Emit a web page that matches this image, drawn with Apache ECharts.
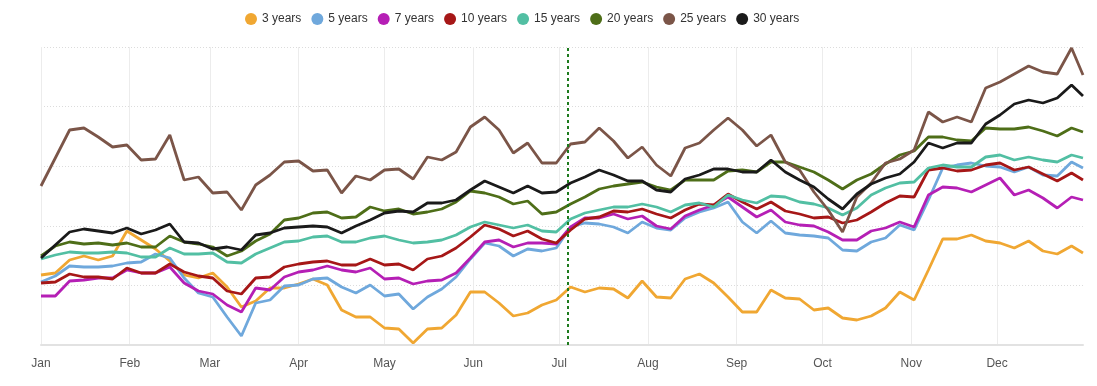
<!DOCTYPE html>
<html>
<head>
<meta charset="utf-8">
<script src="https://cdn.jsdelivr.net/npm/echarts@6/dist/echarts.min.js"></script>
<style>html,body{margin:0;padding:0;background:#fff;}#chart{width:1097px;height:386px;}</style>
</head>
<body>
<div id="chart"></div>
<script>
// Sampling: one value every 5 days from Jan 1 (last point Dec 31)
const year = 2023;
const dayOffsets = [0,5,10,15,20,25,30,35,40,45,50,55,60,65,70,75,80,85,90,95,100,105,110,115,120,125,130,135,140,145,150,155,160,165,170,175,180,185,190,195,200,205,210,215,220,225,230,235,240,245,250,255,260,265,270,275,280,285,290,295,300,305,310,315,320,325,330,335,340,345,350,355,360,364];
const seriesNames = ['3 years','5 years','7 years','10 years','15 years','20 years','25 years','30 years'];
const seriesColors = ['#f0a732','#6fa8dc','#b51fb5','#a61717','#52bfa3','#4e6e18','#7b5548','#1a1a1a'];
const markerDate = '2023-07-04';

const y3 = [70,72,85,89,85,89,114,105,96,84,70,67,72,58,38,44,57,57,61,66,60,35,28,28,17,16,2,16,17,30,53,53,42,29,32,40,45,58,53,57,56,47,64,48,47,66,71,62,48,33,33,55,47,46,35,37,27,25,29,37,53,45,75,106,106,110,104,102,97,104,94,91,99,92];
const y5 = [63,69,79,78,78,79,82,83,91,87,67,52,48,28,9,42,45,59,60,66,67,58,52,60,49,51,36,48,56,68,86,102,99,89,96,94,97,118,122,121,118,112,123,117,115,127,133,137,143,123,112,124,112,110,109,107,95,94,103,107,120,115,145,177,180,182,179,178,173,178,170,169,183,177];
const y7 = [49,49,64,65,67,67,75,72,72,78,62,54,51,40,33,57,55,68,73,75,79,75,73,77,66,67,61,64,65,72,87,103,105,98,102,102,101,118,127,127,131,126,129,119,116,129,135,140,148,138,128,135,123,120,119,113,105,105,114,117,123,118,150,158,157,153,160,167,150,155,147,137,148,145];
const y10 = [62,63,71,68,68,66,77,72,72,81,73,69,67,54,51,67,68,78,81,83,84,80,80,86,80,81,75,86,89,97,108,120,116,109,114,106,102,115,126,128,134,133,136,131,127,135,141,140,151,143,136,143,134,131,127,128,122,125,133,142,149,148,175,177,174,175,180,182,175,178,171,164,172,165];
const y15 = [86,90,93,92,92,93,92,88,88,97,91,91,92,83,82,91,97,103,104,108,109,103,103,107,109,105,102,103,105,110,118,123,120,117,120,114,113,126,132,135,138,138,141,138,133,140,142,138,150,145,142,149,148,143,141,137,130,137,150,157,162,163,177,180,178,178,188,190,185,188,185,183,190,187];
const y20 = [89,99,103,101,102,100,102,98,98,109,103,101,98,89,94,104,111,125,127,132,133,127,128,138,134,136,131,133,136,143,154,152,148,141,144,131,133,141,148,156,159,161,163,158,155,165,165,165,174,175,173,183,183,178,173,165,156,165,171,181,190,194,208,208,205,204,217,216,216,218,214,209,217,213];
const y25 = [159,187,215,217,208,198,200,185,186,210,165,168,152,153,135,160,170,183,184,174,175,152,169,165,175,176,166,188,185,193,218,228,215,192,202,182,182,201,203,217,204,187,198,180,169,197,202,215,227,215,199,210,183,175,153,135,113,148,162,182,186,195,233,223,228,223,257,263,271,279,273,271,297,270];
const y30 = [87,100,113,116,114,112,117,111,115,121,103,102,96,98,95,110,112,117,118,119,118,112,119,125,132,134,133,142,142,145,155,164,158,152,159,152,153,162,168,175,170,164,164,155,153,166,170,176,176,173,173,185,173,165,158,146,136,151,161,167,171,183,202,197,202,202,221,230,241,245,242,247,260,249];
const allValues = [y3,y5,y7,y10,y15,y20,y25,y30];

function dateOf(off){
  const d = new Date(year, 0, 1 + off);
  const mm = String(d.getMonth()+1).padStart(2,'0');
  const dd = String(d.getDate()).padStart(2,'0');
  return d.getFullYear() + '-' + mm + '-' + dd;
}
const dates = dayOffsets.map(dateOf);

const series = seriesNames.map((name, i) => {
  const s = {
    name: name,
    type: 'line',
    showSymbol: false,
    symbol: 'none',
    smooth: false,
    lineStyle: { width: 2.8, color: seriesColors[i] },
    itemStyle: { color: seriesColors[i] },
    data: dates.map((d, k) => [d, allValues[i][k]])
  };
  if (i === 0) {
    s.markLine = {
      silent: true,
      symbol: 'none',
      label: { show: false },
      lineStyle: { color: '#1e7b1e', width: 2, type: [3, 3] },
      data: [{ xAxis: markerDate }]
    };
  }
  return s;
});

const chart = echarts.init(document.getElementById('chart'));
chart.setOption({
  animation: false,
  backgroundColor: '#fff',
  textStyle: { fontFamily: 'Liberation Sans, Arial, sans-serif' },
  legend: {
    top: 8,
    left: 240,
    icon: 'circle',
    itemWidth: 12,
    itemHeight: 12,
    itemGap: 10,
    textStyle: { fontSize: 12, color: '#333' },
    data: seriesNames
  },
  grid: { left: 41, right: 14, top: 47, bottom: 41, containLabel: false },
  xAxis: {
    type: 'time',
    min: '2023-01-01',
    max: '2023-12-31',
    splitNumber: 12,
    axisLine: { show: true, lineStyle: { color: '#e2e2e2', width: 2 } },
    axisTick: { show: false },
    axisLabel: { formatter: '{MMM}', color: '#555', fontSize: 12, margin: 13 },
    splitLine: { show: true, showMaxLine: false, lineStyle: { color: '#ececec', width: 1 } },
    minorTick: { show: false }
  },
  yAxis: {
    type: 'value',
    min: 0,
    max: 298,
    interval: 59.6,
    axisLabel: { show: false },
    axisLine: { show: false },
    axisTick: { show: false },
    splitLine: { show: true, lineStyle: { color: '#dcdcdc', type: [1, 2], width: 1 } }
  },
  series: series
});
</script>
</body>
</html>
